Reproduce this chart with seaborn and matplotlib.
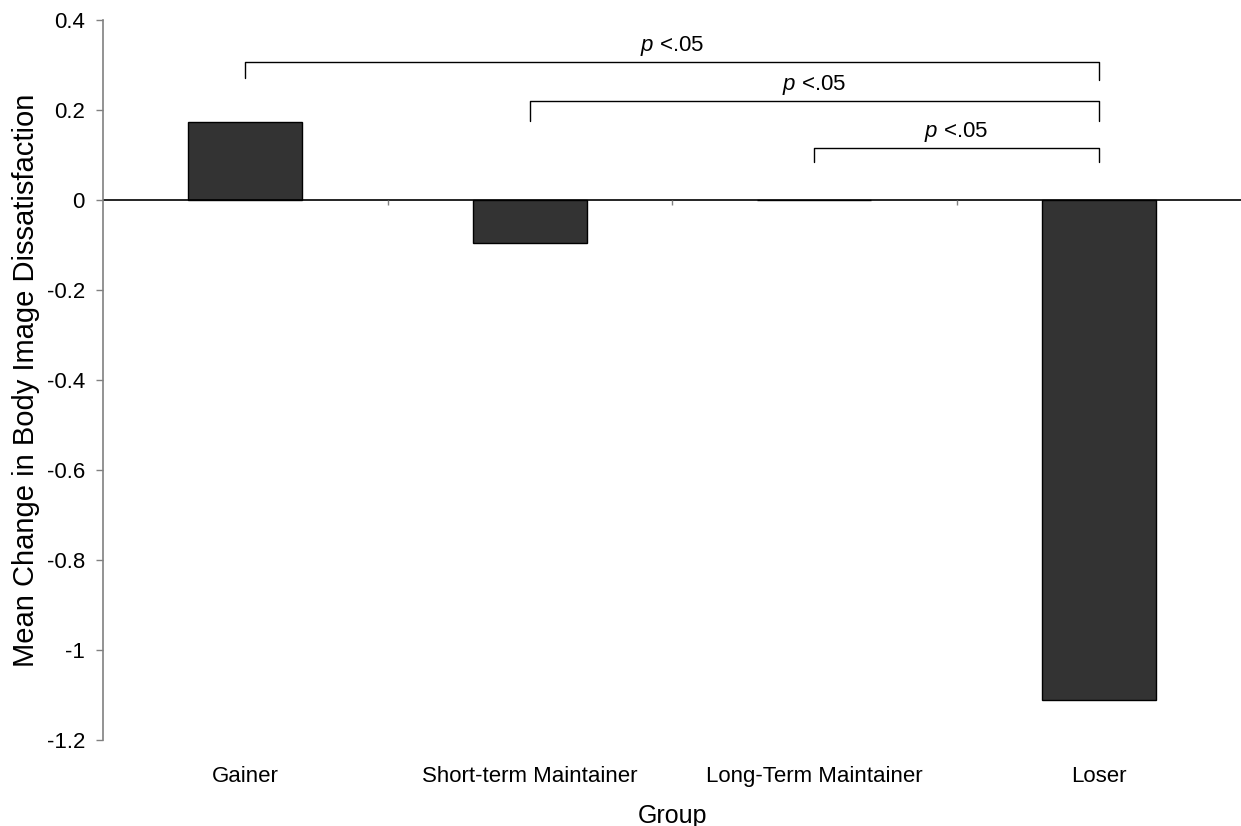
import pandas as pd
import seaborn as sns
import matplotlib.pyplot as plt

groups = ['Gainer', 'Short-term Maintainer', 'Long-Term Maintainer', 'Loser']
mean_change = [0.173, -0.096, 0.0, -1.111]

# significance brackets: (left group, right group, bar height, left leg end, right leg end)
pairs = [(0, 3), (1, 3), (2, 3)]
bracket_y = [0.307, 0.220, 0.116]
leg_left = [0.271, 0.176, 0.084]
leg_right = [0.267, 0.176, 0.084]
p_label = r'$\it{p}$ <.05'

df = pd.DataFrame({'Group': groups, 'Change': mean_change})

sns.set_style('white')
plt.rcParams['font.family'] = ['Liberation Sans', 'DejaVu Sans']
plt.rcParams['mathtext.fontset'] = 'custom'
plt.rcParams['mathtext.it'] = 'Liberation Sans:italic'
plt.rcParams['mathtext.rm'] = 'Liberation Sans'
plt.rcParams['text.color'] = 'black'
plt.rcParams['axes.labelcolor'] = 'black'

fig = plt.figure(figsize=(12.41, 8.26), dpi=100)
ax = fig.add_axes([0.083, 0.104, 0.917, 0.872])

sns.barplot(data=df, x='Group', y='Change', order=groups, color='#333333',
            saturation=1, width=0.4, edgecolor='black', linewidth=1, ax=ax)

ax.set_xlim(-0.5, 3.5)
ax.set_ylim(-1.2, 0.4)
ax.set_yticks([-1.2, -1.0, -0.8, -0.6, -0.4, -0.2, 0, 0.2, 0.4])
ax.set_yticklabels(['-1.2', '-1', '-0.8', '-0.6', '-0.4', '-0.2', '0', '0.2', '0.4'])

# zero line with category boundary ticks
ax.axhline(0, color='black', linewidth=1.2, zorder=1)
ax.vlines([0.5, 1.5, 2.5], -0.011, 0, color='#808080', linewidth=1)

for spine in ['top', 'right', 'bottom']:
    ax.spines[spine].set_visible(False)
ax.spines['left'].set_color('#808080')
ax.spines['left'].set_linewidth(1.2)

ax.tick_params(axis='y', length=5, width=1, color='#808080', labelcolor='black',
               labelsize=16, pad=8, left=True)
ax.tick_params(axis='x', length=0, labelsize=16, labelcolor='black', pad=19)

for (a, b), y, la, lb in zip(pairs, bracket_y, leg_left, leg_right):
    ax.plot([a, a, b, b], [la, y, y, lb], color='black', linewidth=1)
    ax.text((a + b) / 2, y + 0.008, p_label, ha='center', va='bottom', fontsize=16)

ax.set_xlabel('Group', fontsize=18, labelpad=12)
ax.set_ylabel('Mean Change in Body Image Dissatisfaction', fontsize=21, labelpad=5)

plt.savefig('out.png', dpi=100)
plt.close()
